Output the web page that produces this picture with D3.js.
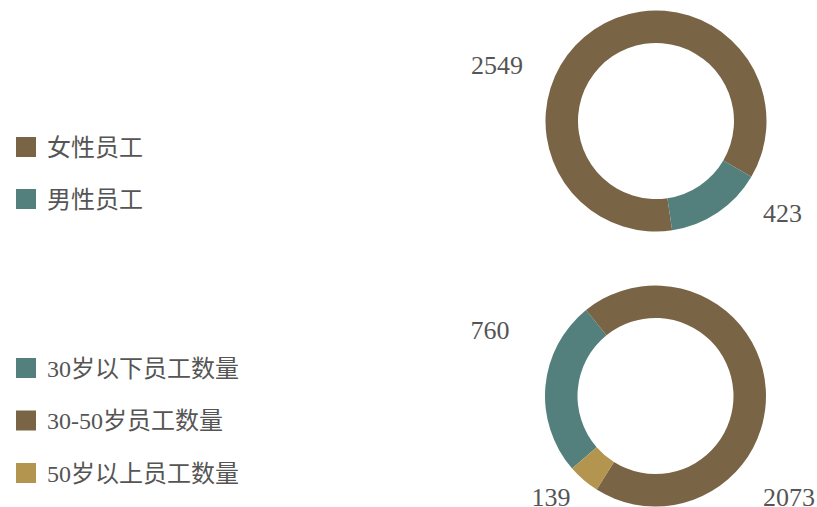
<!DOCTYPE html>
<html><head><meta charset="utf-8">
<script src="https://cdn.jsdelivr.net/npm/d3@7/dist/d3.min.js"></script>
<style>
html,body{margin:0;padding:0;background:#fff;}
svg{display:block;}
text{font-family:"Liberation Serif","Noto Sans CJK SC",serif;fill:#555;}
</style></head>
<body>
<svg id="chart" width="817" height="507"></svg>
<script>
// ---- data ----
const genderCategories = ["女性员工", "男性员工"];
const genderValues = [2549, 423];
const ageCategories = ["30岁以下员工数量", "30-50岁员工数量", "50岁以上员工数量"];
const ageValues = [760, 2073, 139];

// ---- styles / layout ----
const BROWN = "#7a6446", TEAL = "#53807d", GOLD = "#b4954f";
const genderColors = [BROWN, TEAL];
const ageColors = [TEAL, BROWN, GOLD];

const svg = d3.select("#chart");
const deg = Math.PI / 180;
const arc = d3.arc().innerRadius(78).outerRadius(110.5);

function donut(cx, cy, values, colors, start, labelOffsets) {
  const pie = d3.pie().sort(null).startAngle(start * deg).endAngle(start * deg + 2 * Math.PI);
  const g = svg.append("g").attr("transform", `translate(${cx},${cy})`);
  const arcs = pie(values);
  g.selectAll("path").data(arcs).enter().append("path")
    .attr("d", arc).attr("fill", (d, i) => colors[i]);
  g.selectAll("text.lbl").data(arcs).enter().append("text")
    .attr("class", "lbl")
    .attr("x", (d, i) => labelOffsets[i][0])
    .attr("y", (d, i) => labelOffsets[i][1])
    .attr("text-anchor", (d, i) => labelOffsets[i][2])
    .style("font-size", "26px")
    .text(d => d.data);
}

donut(656, 121, genderValues, genderColors, 171.6,
  [[-133, -47, "end"], [107, 101, "start"]]);
donut(655.5, 396, ageValues, ageColors, 229,
  [[-146, -57, "end"], [107.5, 110, "start"], [-85, 110, "end"]]);

function legend(x, y0, step, cats, colors) {
  const g = svg.append("g").attr("transform", `translate(${x},${y0})`);
  const items = g.selectAll("g").data(cats).enter().append("g")
    .attr("transform", (d, i) => `translate(0,${i * step})`);
  items.append("rect").attr("x", 0).attr("y", 0).attr("width", 20).attr("height", 20)
    .attr("fill", (d, i) => colors[i]);
  items.append("text").attr("x", 31).attr("y", 18.5)
    .style("font-size", "24px").text(d => d);
}

legend(16, 137, 52, genderCategories, genderColors);
legend(16, 358, 52.5, ageCategories, ageColors);
</script>
</body></html>
